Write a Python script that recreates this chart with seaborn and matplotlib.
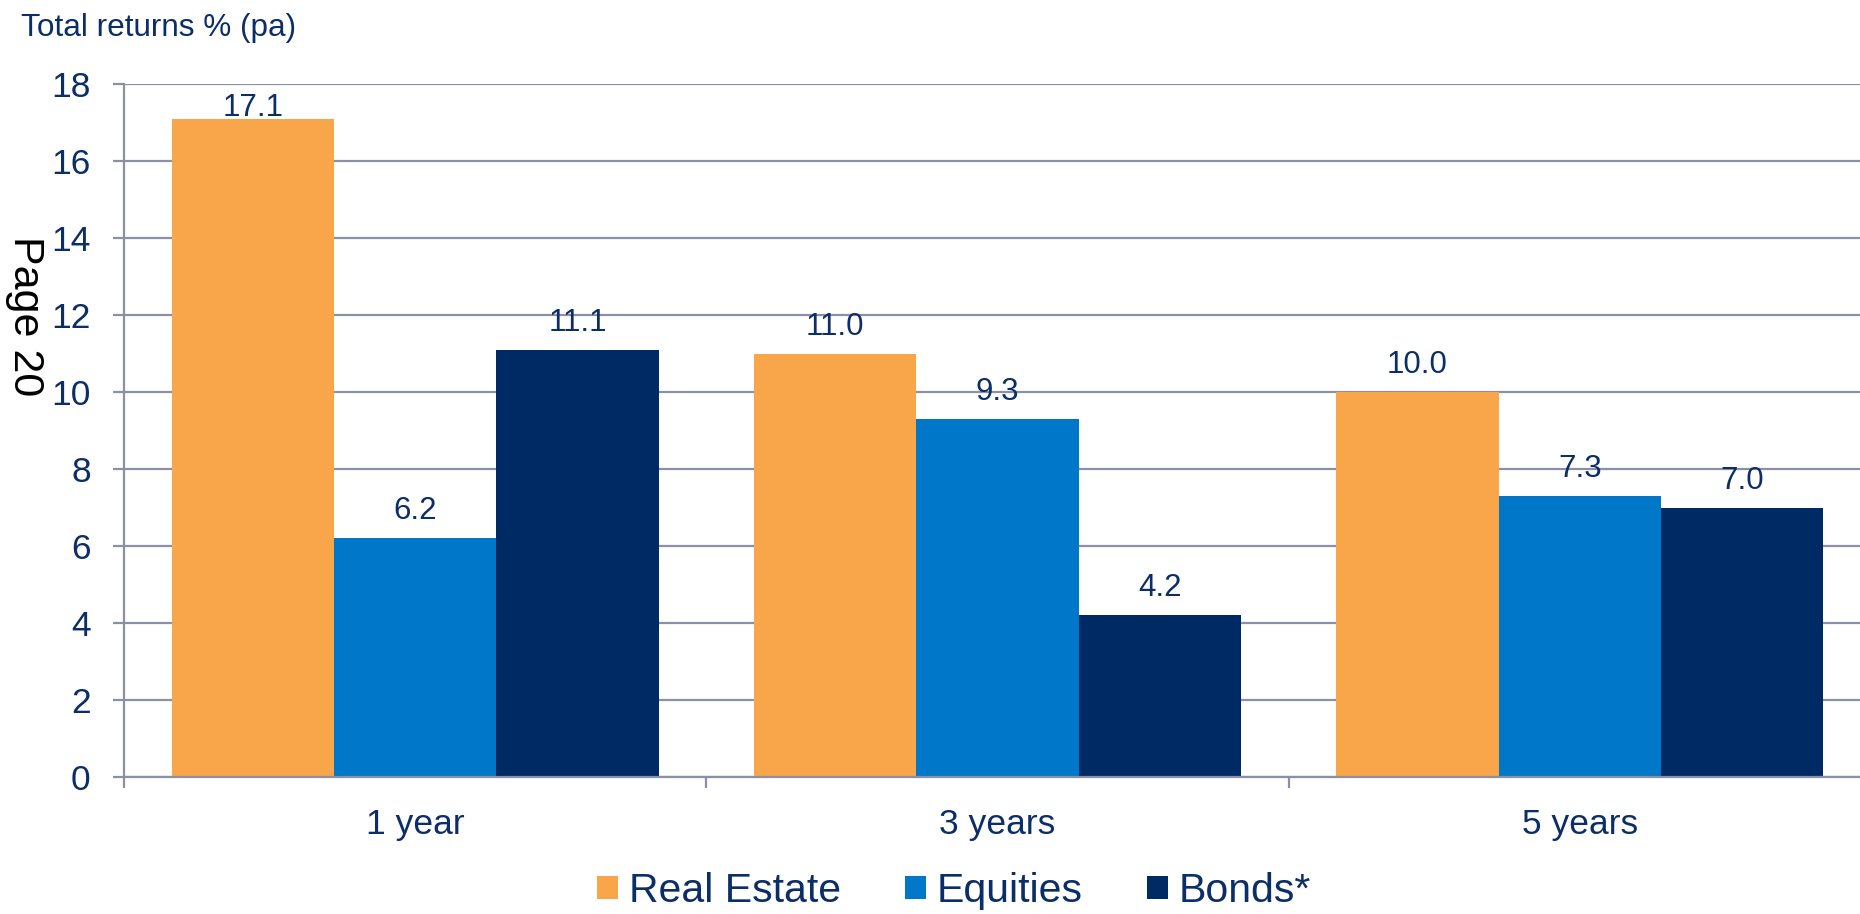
import matplotlib
matplotlib.use("Agg")
import matplotlib.pyplot as plt
import seaborn as sns
import pandas as pd

# Annualised total returns by holding period
periods = ["1 year", "3 years", "5 years"]
assets = ["Real Estate", "Equities", "Bonds*"]
real_estate = [17.1, 11.0, 10.0]
equities = [6.2, 9.3, 7.3]
bonds = [11.1, 4.2, 7.0]
y_ticks = [0, 2, 4, 6, 8, 10, 12, 14, 16, 18]

colors = ["#F9A64A", "#0077C8", "#002A64"]
navy_text = "#0B2D68"
grid_grey = "#8B90A4"

sns.set_style("white")
plt.rcParams["font.family"] = ["Liberation Sans", "DejaVu Sans"]

df = pd.DataFrame({
    "period": periods * 3,
    "asset": [assets[0]] * 3 + [assets[1]] * 3 + [assets[2]] * 3,
    "value": real_estate + equities + bonds,
})

fig = plt.figure(figsize=(18.6, 9.14), dpi=100)
ax = fig.add_axes([124 / 1860, 137 / 914, 1747 / 1860, 693 / 914])

sns.barplot(data=df, x="period", y="value", hue="asset",
            order=periods, hue_order=assets, palette=colors,
            width=0.836, saturation=1, linewidth=0, ax=ax, errorbar=None)

ax.set_xlim(-0.5, 2.5)
ax.set_ylim(0, 18)
ax.set_xlabel("")
ax.set_ylabel("")

# horizontal gridlines behind the bars
ax.set_axisbelow(True)
ax.yaxis.grid(True, color=grid_grey, linewidth=1.6)
ax.xaxis.grid(False)
for side in ("top", "right"):
    ax.spines[side].set_visible(False)
for side in ("left", "bottom"):
    ax.spines[side].set_color(grid_grey)
    ax.spines[side].set_linewidth(1.6)

ax.set_yticks(y_ticks)
ax.set_yticklabels([str(t) for t in y_ticks])
ax.tick_params(axis="y", which="major", direction="out", length=8, width=1.6,
               color=grid_grey, labelsize=25.5, labelcolor=navy_text, pad=16, left=True)

# category labels centred, separator ticks between categories
ax.set_xticks(range(len(periods)))
ax.set_xticklabels(periods)
ax.set_xticks([-0.5, 0.5, 1.5, 2.5], minor=True)
ax.tick_params(axis="x", which="major", length=0, labelsize=25.5,
               labelcolor=navy_text, pad=22)
ax.tick_params(axis="x", which="minor", direction="out", length=8, width=1.6,
               color=grid_grey, bottom=True)

# value labels above each bar
for container in ax.containers:
    for bar in container:
        h = bar.get_height()
        xc = bar.get_x() + bar.get_width() / 2
        ty = min(h + 0.49, 17.16)
        ax.text(xc, ty, f"{h:.1f}", ha="center", va="baseline",
                fontsize=22.5, color=navy_text, zorder=5)

handles, labels = ax.get_legend_handles_labels()
if ax.get_legend() is not None:
    ax.get_legend().remove()
fig.legend(handles, labels, loc="center", bbox_to_anchor=(954 / 1860, 1 - 891 / 914),
           ncol=3, frameon=False, fontsize=29.5, labelcolor=navy_text,
           handlelength=0.52, handleheight=0.52, handletextpad=0.27,
           columnspacing=1.55, borderpad=0, borderaxespad=0)

fig.text(21 / 1860, 1 - 36 / 914, "Total returns % (pa)", ha="left", va="baseline",
         fontsize=22.7, color=navy_text)
fig.text(25 / 1860, 1 - 316 / 914, "Page 20", rotation=270, ha="center", va="center",
         fontsize=31, color="black")

fig.savefig("out.png", dpi=100)
